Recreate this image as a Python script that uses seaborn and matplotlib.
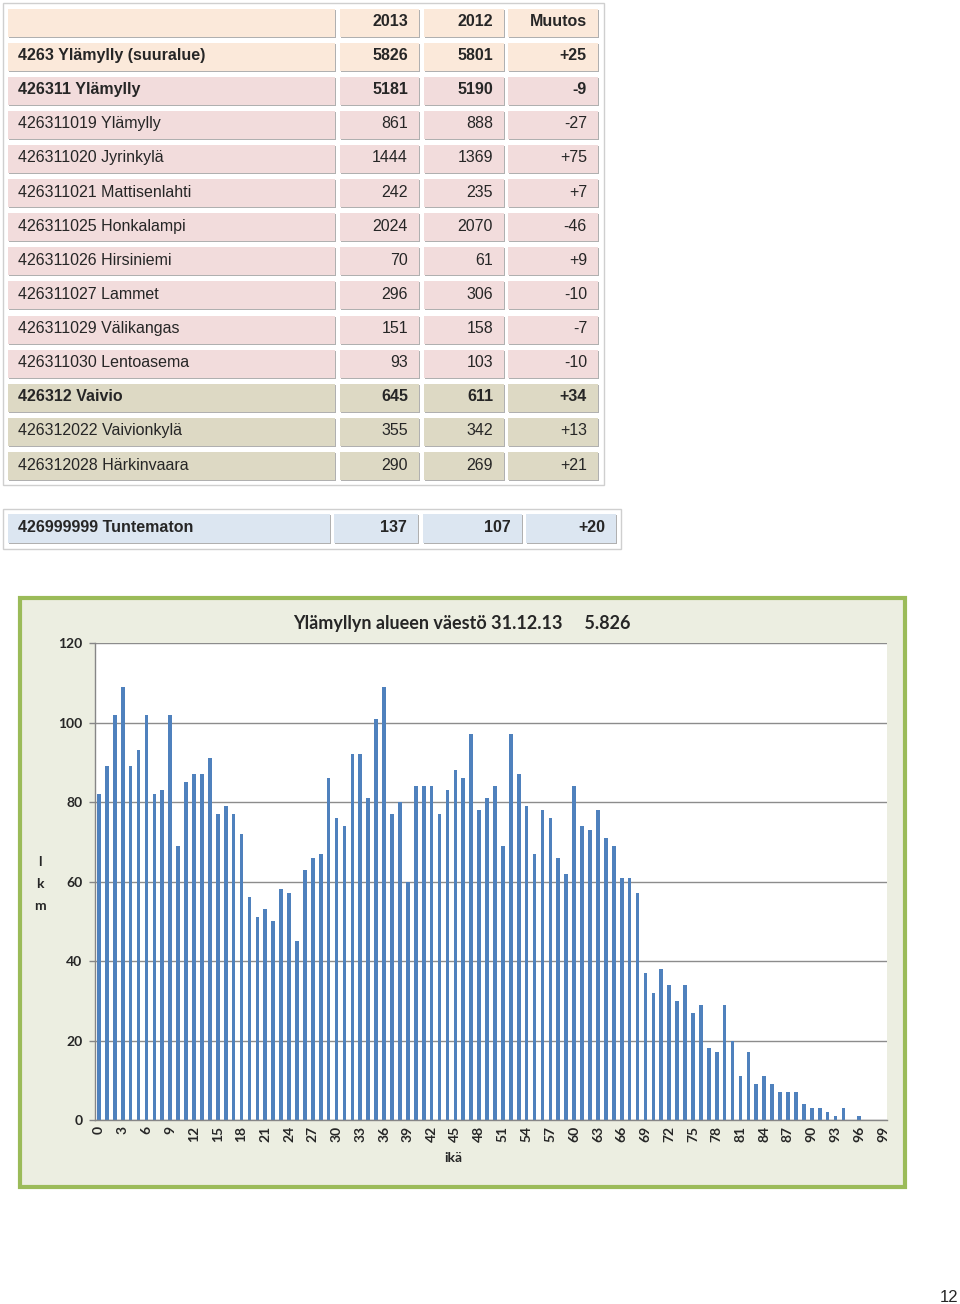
import matplotlib
matplotlib.use("Agg")
import matplotlib.pyplot as plt
from matplotlib.patches import Rectangle
import numpy as np
import pandas as pd
import seaborn as sns

# taulukon rivit
names = ["4263 Ylämylly (suuralue)", "426311 Ylämylly", "426311019 Ylämylly",
         "426311020 Jyrinkylä", "426311021 Mattisenlahti", "426311025 Honkalampi",
         "426311026 Hirsiniemi", "426311027 Lammet", "426311029 Välikangas",
         "426311030 Lentoasema", "426312 Vaivio", "426312022 Vaivionkylä",
         "426312028 Härkinvaara"]
v2013 = [5826, 5181, 861, 1444, 242, 2024, 70, 296, 151, 93, 645, 355, 290]
v2012 = [5801, 5190, 888, 1369, 235, 2070, 61, 306, 158, 103, 611, 342, 269]
muutos = ["+25", "-9", "-27", "+75", "+7", "-46", "+9", "-10", "-7", "-10", "+34", "+13", "+21"]
header = ["", "2013", "2012", "Muutos"]

unknown_row = ["426999999 Tuntematon", 137, 107, "+20"]

# ikäjakauma 31.12.13
ages = list(range(100))
counts = [82, 89, 102, 109, 89, 93, 102, 82, 83, 102,
          69, 85, 87, 87, 91, 77, 79, 77, 72, 56,
          51, 53, 50, 58, 57, 45, 63, 66, 67, 86,
          76, 74, 92, 92, 81, 101, 109, 77, 80, 60,
          84, 84, 84, 77, 83, 88, 86, 97, 78, 81,
          84, 69, 97, 87, 79, 67, 78, 76, 66, 62,
          84, 74, 73, 78, 71, 69, 61, 61, 57, 37,
          32, 38, 34, 30, 34, 27, 29, 18, 17, 29,
          20, 11, 17, 9, 11, 9, 7, 7, 7, 4,
          3, 3, 2, 1, 3, 0, 1, 0, 0, 0]

sns.set_style("white")
plt.rcParams['font.family'] = ['Lato', 'DejaVu Sans']

fig = plt.figure(figsize=(9.6, 13.04), dpi=100)
bg = fig.add_axes([0, 0, 1, 1])
bg.set_xlim(0, 960)
bg.set_ylim(1304, 0)
bg.axis('off')

TFONT = ['Liberation Sans', 'DejaVu Sans']
PEACH, PINK, TAN, BLUE = '#fbe9da', '#f2dcdc', '#ddd9c4', '#dce6f1'


def cell(x0, x1, y0, y1, color):
    bg.add_patch(Rectangle((x0 + 1, y0 + 1), x1 - x0, y1 - y0, fc='#b0b0b0', ec='none'))
    bg.add_patch(Rectangle((x0, y0), x1 - x0, y1 - y0, fc=color, ec='none'))


def row(cols, texts, y0, y1, color, bold):
    w = 'bold' if bold else 'normal'
    yc = (y0 + y1) / 2 - 1
    for i, ((x0, x1), t) in enumerate(zip(cols, texts)):
        cell(x0, x1, y0, y1, color)
        if i == 0:
            bg.text(x0 + 10, yc, t, ha='left', va='center', fontsize=11.5, fontweight=w, family=TFONT)
        else:
            bg.text(x1 - 11, yc, str(t), ha='right', va='center', fontsize=11.5, fontweight=w, family=TFONT)


# taulukko 1
bg.add_patch(Rectangle((3, 3), 601, 482, fc='white', ec='#cfcfcf', lw=1))
cols1 = [(8, 335), (340, 419), (424, 504), (508, 598)]
row(cols1, header, 8.5, 36.5, PEACH, True)
for i, nm in enumerate(names):
    y0 = 8.5 + 34.12 * (i + 1)
    if i == 0:
        col = PEACH
    elif i < 10:
        col = PINK
    else:
        col = TAN
    row(cols1, [nm, v2013[i], v2012[i], muutos[i]], y0, y0 + 28, col, i in (0, 1, 10))

# taulukko 2
bg.add_patch(Rectangle((3, 509), 618, 40, fc='white', ec='#cfcfcf', lw=1))
cols2 = [(8, 330), (334, 418), (423, 522), (526, 616)]
row(cols2, unknown_row, 514, 543, BLUE, True)

# kaavion tausta
bg.add_patch(Rectangle((20, 598), 885, 589, fc='#eceee1', ec='#9bbb59', lw=3))

ax = fig.add_axes([95 / 960, 1 - 1120 / 1304, 792 / 960, 477 / 1304])
df = pd.DataFrame({'ikä': ages, 'lkm': counts})
sns.barplot(data=df, x='ikä', y='lkm', color='#4f81bd', saturation=1, width=0.46,
            linewidth=0, ax=ax)
ax.set_facecolor('white')
ax.set_xlim(-0.5, 99.5)
ax.set_ylim(0, 120)
ax.set_yticks(range(0, 121, 20))
ax.set_yticklabels([str(v) for v in range(0, 121, 20)], fontweight='bold', fontsize=10)
ax.set_xticks(range(0, 100, 3))
ax.set_xticklabels([str(a) for a in range(0, 100, 3)], rotation=90, fontweight='bold', fontsize=10)
ax.set_xticks(np.arange(-0.5, 100, 1), minor=True)
ax.tick_params(axis='x', which='major', length=0, pad=4)
ax.tick_params(axis='x', which='minor', length=4, color='#868686', width=1, direction='out')
ax.tick_params(axis='y', length=4, color='#868686', width=1, direction='out', pad=5, left=True)
ax.grid(axis='y', color='#8c8c8c', lw=1)
ax.set_axisbelow(True)
for s in ['top', 'right']:
    ax.spines[s].set_visible(False)
for s in ['left', 'bottom']:
    ax.spines[s].set_color('#868686')
    ax.spines[s].set_linewidth(1)
ax.set_xlabel('')
ax.set_ylabel('')

bg.text(462, 623, 'Ylämyllyn alueen väestö 31.12.13     5.826', ha='center', va='center',
        fontsize=13, fontweight='bold')
bg.text(40, 884, 'l\nk\nm', ha='center', va='center', fontsize=10, fontweight='bold', linespacing=2.0)
bg.text(453, 1158, 'ikä', ha='center', va='center', fontsize=10, fontweight='bold')

bg.text(958, 1297, '12', ha='right', va='center', fontsize=12, family=TFONT)

fig.savefig('out.png', dpi=100)
